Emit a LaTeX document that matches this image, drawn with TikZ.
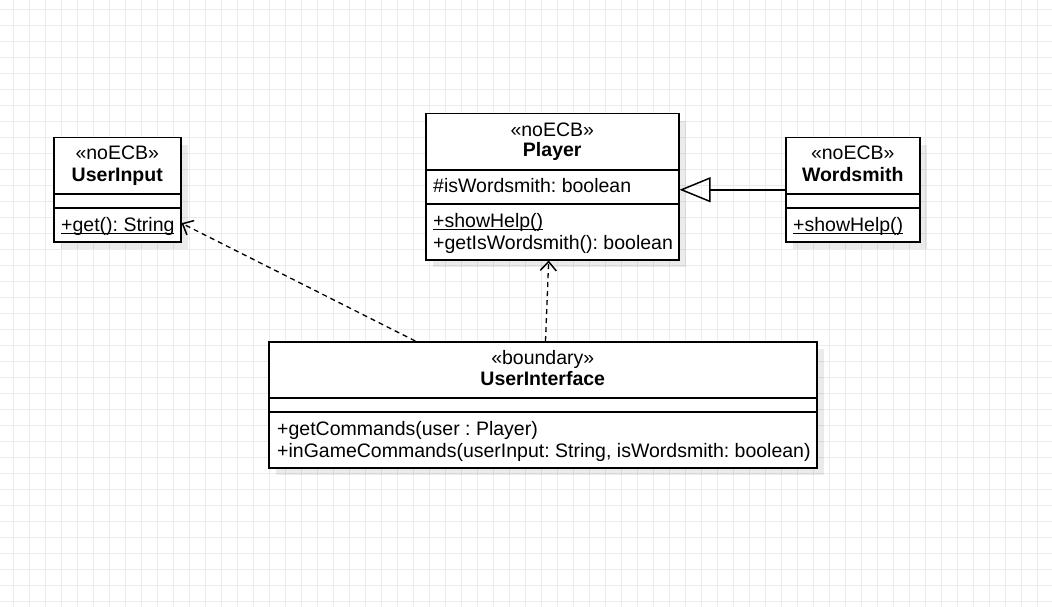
\documentclass[tikz,border=0pt]{standalone}
\usepackage{fontspec}
\setmainfont{Liberation Sans}
\usetikzlibrary{arrows.meta,calc,shadows,positioning}
\frenchspacing
\newcommand\ulmember[1]{\setbox0\hbox{#1}\rlap{\rule[-3pt]{\wd0}{1.3pt}}\box0}
\tikzset{every node/.style={inner sep=0pt, font=\fontsize{19.5}{22}\selectfont}}
\tikzset{classbox/.style={draw, line width=1.5pt, fill=white, anchor=north west,
    drop shadow={shadow xshift=7pt, shadow yshift=-7pt, fill=black, opacity=0.08}},
  sepline/.style={line width=1.5pt},
  stereo/.style={anchor=base},
  cname/.style={anchor=base, font=\fontsize{19.5}{22}\selectfont\bfseries},
  member/.style={anchor=base west},
  dep/.style={line width=1.3pt, dash pattern=on 5pt off 4pt, -{Straight Barb[length=9pt,width=16pt,line width=1.5pt]}},
  inherit/.style={line width=1.5pt, -{Triangle[open,length=31pt,width=25pt]}},
  gridline/.style={line width=1pt, black!8}}

\begin{document}
\begin{tikzpicture}[x=1pt,y=-1pt]
   \fill[white] (0,0) rectangle (1052,607);
   \useasboundingbox (0,0) rectangle (1052,607);
   \foreach \gx in {13.3,29.3,...,1052} \draw[gridline] (\gx,0) -- (\gx,607);
   \foreach \gy in {9.3,25.3,...,607} \draw[gridline] (0,\gy) -- (1052,\gy);

   \node[classbox, minimum width=127pt, minimum height=104pt] (uin) at (53,137) {};
   \draw[sepline] ($(uin.north west)+(0,57)$) -- ($(uin.north east)+(0,57)$);
   \draw[sepline] ($(uin.north west)+(0,71)$) -- ($(uin.north east)+(0,71)$);
   \node[stereo] (uinS) at ($(uin.north)+(0,23)$) {«noECB»};
   \node[cname] (uinN) at ($(uin.north)+(0,44)$) {UserInput};
   \node[member] (uinM) at ($(uin.north west)+(8,94)$) {\ulmember{+get(): String}};

   \node[classbox, minimum width=253pt, minimum height=146pt] (pl) at (425,113) {};
   \draw[sepline] ($(pl.north west)+(0,57)$) -- ($(pl.north east)+(0,57)$);
   \draw[sepline] ($(pl.north west)+(0,91)$) -- ($(pl.north east)+(0,91)$);
   \node[stereo] (plS) at ($(pl.north)+(0,23)$) {«noECB»};
   \node[cname] (plN) at ($(pl.north)+(0,44)$) {Player};
   \node[member] (plA) at ($(pl.north west)+(8,80)$) {\#isWordsmith: boolean};
   \node[member] (plM1) at ($(pl.north west)+(8,114)$) {\ulmember{+showHelp()}};
   \node[member] (plM2) at ($(pl.north west)+(8,136)$) {+getIsWordsmith(): boolean};

   \node[classbox, minimum width=134pt, minimum height=104pt] (ws) at (785,137) {};
   \draw[sepline] ($(ws.north west)+(0,57)$) -- ($(ws.north east)+(0,57)$);
   \draw[sepline] ($(ws.north west)+(0,71)$) -- ($(ws.north east)+(0,71)$);
   \node[stereo] (wsS) at ($(ws.north)+(0,23)$) {«noECB»};
   \node[cname] (wsN) at ($(ws.north)+(0,44)$) {Wordsmith};
   \node[member] (wsM) at ($(ws.north west)+(8,94)$) {\ulmember{+showHelp()}};

   \node[classbox, minimum width=548pt, minimum height=126pt] (ui) at (268,341) {};
   \draw[sepline] ($(ui.north west)+(0,57)$) -- ($(ui.north east)+(0,57)$);
   \draw[sepline] ($(ui.north west)+(0,71)$) -- ($(ui.north east)+(0,71)$);
   \node[stereo] (uiS) at ($(ui.north)+(0,23)$) {«boundary»};
   \node[cname] (uiN) at ($(ui.north)+(0,44)$) {UserInterface};
   \node[member] (uiM1) at ($(ui.north west)+(9,94)$) {+getCommands(user : Player)};
   \node[member] (uiM2) at ($(ui.north west)+(9,116)$) {+inGameCommands(userInput: String, isWordsmith: boolean)};

   \draw[dep] ($(ui.north west)!0.268!(ui.north east)$) -- ($(uin.north east)!0.817!(uin.south east)$);
   \draw[dep] ($(ui.north west)!0.505!(ui.north east)$) -- ($(pl.south west)!0.486!(pl.south east)$);
   \draw[inherit] (ws.west) -- (ws.west -| pl.east);
  \end{tikzpicture}
\end{document}
